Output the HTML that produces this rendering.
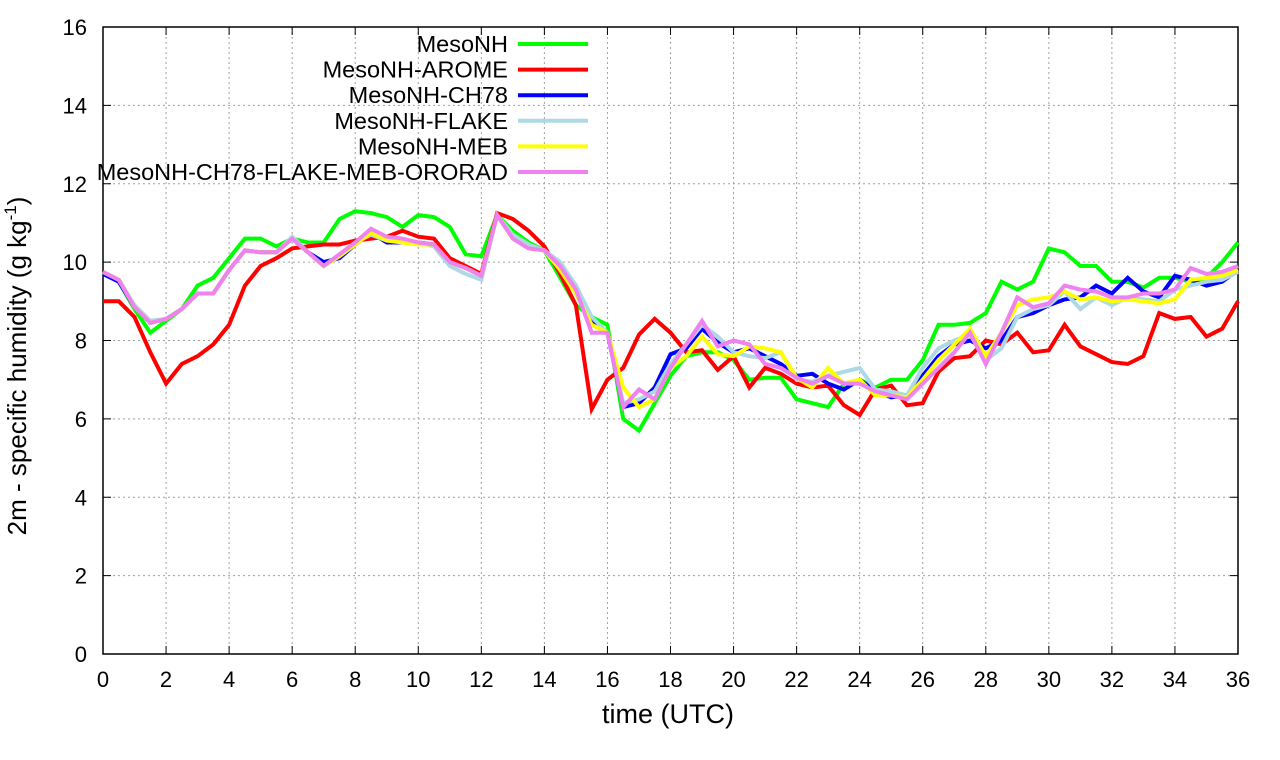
<!DOCTYPE html>
<html><head><meta charset="utf-8">
<style>
html,body{margin:0;padding:0;background:#fff;}
svg{display:block;font-family:"Liberation Sans",sans-serif;}
</style></head>
<body>
<svg id="chart" width="1280" height="760" xmlns="http://www.w3.org/2000/svg">
<g id="grid"></g>
<g id="axes"></g>
<g id="series"></g>
<g id="legend"></g>
<text x="668" y="723" font-size="27" text-anchor="middle">time (UTC)</text>
<text transform="translate(26,366) rotate(-90)" font-size="26" text-anchor="middle">2m - specific humidity (g kg<tspan font-size="17" dy="-10">-1</tspan><tspan dy="10">)</tspan></text>
</svg>
<script>
const xTicks=[0,2,4,6,8,10,12,14,16,18,20,22,24,26,28,30,32,34,36];
const yTicks=[0,2,4,6,8,10,12,14,16];
const seriesNames=["MesoNH","MesoNH-AROME","MesoNH-CH78","MesoNH-FLAKE","MesoNH-MEB","MesoNH-CH78-FLAKE-MEB-ORORAD"];
const seriesColors=["#00ff00","#ff0000","#0000ff","#add8e6","#ffff00","#ee82ee"];
const mesonh=[9.75,9.5,8.8,8.2,8.5,8.8,9.4,9.6,10.1,10.6,10.6,10.4,10.6,10.5,10.5,11.1,11.3,11.25,11.15,10.9,11.2,11.15,10.9,10.2,10.15,11.2,10.8,10.5,10.3,9.6,8.9,8.6,8.4,6.0,5.7,6.4,7.1,7.6,7.7,7.7,7.5,7.0,7.05,7.05,6.5,6.4,6.3,6.9,7.0,6.8,7.0,7.0,7.5,8.4,8.4,8.45,8.7,9.5,9.3,9.5,10.35,10.25,9.9,9.9,9.5,9.5,9.35,9.6,9.6,9.5,9.6,10.0,10.5];
const arome=[9.0,9.0,8.6,7.7,6.9,7.4,7.6,7.9,8.4,9.4,9.9,10.1,10.35,10.4,10.45,10.45,10.55,10.6,10.65,10.8,10.65,10.6,10.1,9.9,9.7,11.25,11.1,10.8,10.4,9.7,8.9,6.25,7.0,7.3,8.15,8.55,8.2,7.7,7.75,7.25,7.6,6.8,7.3,7.15,6.9,6.8,6.85,6.35,6.1,6.75,6.85,6.35,6.4,7.2,7.55,7.6,8.0,7.9,8.2,7.7,7.75,8.4,7.85,7.65,7.45,7.4,7.6,8.7,8.55,8.6,8.1,8.3,9.0];
const ch78=[9.7,9.5,8.85,8.45,8.55,8.8,9.2,9.2,9.8,10.3,10.25,10.25,10.6,10.25,10.0,10.1,10.45,10.75,10.5,10.5,10.5,10.45,10.0,9.85,9.65,11.2,10.65,10.4,10.3,9.95,9.4,8.5,8.2,6.3,6.4,6.8,7.65,7.8,8.3,7.95,7.7,7.8,7.6,7.4,7.1,7.15,6.9,6.75,7.0,6.7,6.55,6.6,7.1,7.6,7.9,8.0,7.8,8.0,8.6,8.7,8.9,9.05,9.1,9.4,9.2,9.6,9.25,9.1,9.65,9.55,9.4,9.5,9.8];
const flake=[9.75,9.55,8.9,8.5,8.55,8.8,9.2,9.2,9.8,10.3,10.25,10.25,10.65,10.25,9.9,10.2,10.5,10.7,10.55,10.55,10.5,10.4,9.9,9.7,9.55,11.2,10.7,10.45,10.3,10.0,9.4,8.6,8.2,6.4,6.5,6.7,7.4,7.9,8.4,8.1,7.7,7.6,7.55,7.7,7.0,6.95,7.1,7.2,7.3,6.75,6.7,6.6,7.3,7.8,8.0,8.15,7.5,7.8,8.6,8.8,8.9,9.25,8.8,9.1,8.9,9.1,9.05,9.0,9.3,9.4,9.5,9.55,9.75];
const meb=[9.75,9.55,8.85,8.45,8.55,8.8,9.2,9.2,9.8,10.3,10.25,10.25,10.6,10.25,9.9,10.15,10.45,10.75,10.55,10.5,10.45,10.45,10.0,9.85,9.65,11.2,10.6,10.35,10.3,9.8,9.2,8.4,8.2,6.8,6.3,6.5,7.3,7.6,8.1,7.65,7.6,7.85,7.8,7.7,7.05,6.8,7.3,6.9,7.0,6.6,6.6,6.55,7.0,7.5,7.9,8.3,7.6,8.2,8.9,9.05,9.1,9.25,9.05,9.1,9.0,9.05,9.0,8.95,9.05,9.55,9.6,9.65,9.8];
const ororad=[9.75,9.55,8.85,8.45,8.55,8.8,9.2,9.2,9.8,10.3,10.25,10.25,10.6,10.25,9.9,10.2,10.5,10.85,10.65,10.6,10.5,10.45,10.0,9.85,9.65,11.2,10.6,10.35,10.3,9.9,9.3,8.2,8.2,6.3,6.75,6.5,7.3,7.9,8.5,7.85,8.0,7.9,7.4,7.3,7.05,6.9,7.1,6.9,6.9,6.7,6.6,6.5,6.9,7.3,7.7,8.2,7.4,8.2,9.1,8.85,8.95,9.4,9.3,9.25,9.1,9.1,9.2,9.2,9.3,9.85,9.7,9.75,9.9];
const allSeries=[mesonh,arome,ch78,flake,meb,ororad];
const timeStep=0.5;

const NS="http://www.w3.org/2000/svg";
const X0=103,X1=1238,Y0=654,Y1=27;
const xScale=v=>X0+(v/36)*(X1-X0);
const yScale=v=>Y0-(v/16)*(Y0-Y1);
function mk(tag,attrs,parent){const e=document.createElementNS(NS,tag);for(const k in attrs)e.setAttribute(k,attrs[k]);parent.appendChild(e);return e;}
const grid=document.getElementById('grid'),axes=document.getElementById('axes'),ser=document.getElementById('series'),leg=document.getElementById('legend');

xTicks.forEach(t=>{
  const x=xScale(t);
  if(t>0&&t<36){const g=mk('line',{x1:x,x2:x,y1:Y1,y2:Y0,stroke:'#a0a0a0','stroke-dasharray':'2,3','stroke-width':1},grid);
  
  }
  mk('line',{x1:x,x2:x,y1:Y0,y2:Y0-8,stroke:'#000'},axes);
  mk('line',{x1:x,x2:x,y1:Y1,y2:Y1+8,stroke:'#000'},axes);
  const tx=mk('text',{x:x,y:Y0+33,'font-size':22,'text-anchor':'middle'},axes);
  tx.textContent=t;
  
  
});
yTicks.forEach(t=>{
  const y=yScale(t);
  if(t>0&&t<16){const g=mk('line',{x1:X0,x2:X1,y1:y,y2:y,stroke:'#a0a0a0','stroke-dasharray':'2,3','stroke-width':1},grid);
  
  }
  mk('line',{x1:X0,x2:X0+8,y1:y,y2:y,stroke:'#000'},axes);
  mk('line',{x1:X1,x2:X1-8,y1:y,y2:y,stroke:'#000'},axes);
  const tx=mk('text',{x:X0-16,y:y+8,'font-size':22,'text-anchor':'end'},axes);
  tx.textContent=t;
  
  
});
const frame=mk('rect',{x:X0,y:Y1,width:X1-X0,height:Y0-Y1,fill:'none',stroke:'#000','stroke-width':1.5},axes);



allSeries.forEach((vals,i)=>{
  const pts=vals.map((v,j)=>xScale(j*timeStep).toFixed(1)+','+yScale(v).toFixed(1)).join(' ');
  const p=mk('polyline',{points:pts,fill:'none',stroke:seriesColors[i],'stroke-width':4,'stroke-linejoin':'miter'},ser);
  
  
  const ly=44+i*25.6;
  const g=mk('g',{},leg);
  
  
  const t=mk('text',{x:508,y:ly+8,'font-size':23.5,'text-anchor':'end'},g);
  t.textContent=seriesNames[i];
  mk('line',{x1:518,x2:588,y1:ly,y2:ly,stroke:seriesColors[i],'stroke-width':4},g);
});
</script>
</body></html>
